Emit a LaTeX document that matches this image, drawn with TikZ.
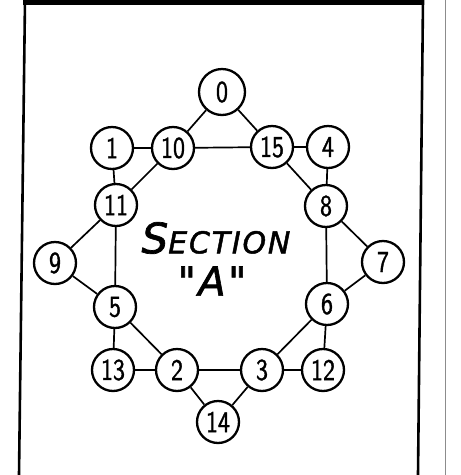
\documentclass[tikz,border=0pt]{standalone}
\usepackage{fontspec}
\newfontfamily\handfont[LetterSpace=6,FakeBold=1.6]{DejaVu Sans}
\newfontfamily\numfont[Extension=.otf,FakeBold=1.2,FakeStretch=0.8]{lmsans10-regular}
\begin{document}
\begin{tikzpicture}[x=1pt,y=-1pt,
  nd/.style={circle,draw,line width=2.3pt,minimum size=42pt,inner sep=0pt,font=\fontsize{30}{30}\selectfont\numfont},
  ln/.style={line width=1.7pt},
  frame/.style={line width=2.6pt}]
\useasboundingbox (0,0) rectangle (461,475);
% frame
\draw[line width=5pt] (23,2.5) -- (424,2.5);
\draw[frame] (25,0) -- (19,475);
\draw[frame] (423,0) -- (418,475);
\draw[line width=1pt,black!45] (445,0) -- (445,475);
% nodes
\node[nd,minimum size=46pt] (n0) at (222,92) {0};
\node[nd] (n1) at (112,148) {1};
\node[nd] (n10) at (173,148) {10};
\node[nd] (n15) at (272,147) {15};
\node[nd] (n4) at (328,147) {4};
\node[nd] (n11) at (116,205) {11};
\node[nd] (n8) at (326,206) {8};
\node[nd] (n9) at (55,263) {9};
\node[nd] (n7) at (383,262) {7};
\node[nd] (n5) at (115,307) {5};
\node[nd] (n6) at (327,304) {6};
\node[nd] (n13) at (113,370) {13};
\node[nd] (n2) at (177,370) {2};
\node[nd] (n3) at (262,370) {3};
\node[nd] (n12) at (323,370) {12};
\node[nd] (n14) at (218,422) {14};
% text
\node (sec) at (216,238) {\handfont\itshape{\fontsize{42}{42}\selectfont S}{\fontsize{30}{30}\selectfont ECTION}};
\node (qa) at (212,281) {\handfont\itshape\fontsize{40}{40}\selectfont "A"};
% edges
\draw[ln] (n0) -- (n10);
\draw[ln] (n0) -- (n15);
\draw[ln] (n1) -- (n10);
\draw[ln] (n10) -- (n15);
\draw[ln] (n15) -- (n4);
\draw[ln] (n1) -- (n11);
\draw[ln] (n10) -- (n11);
\draw[ln] (n15) -- (n8);
\draw[ln] (n4) -- (n8);
\draw[ln] (n11) -- (n9);
\draw[ln] (n11) -- (n5);
\draw[ln] (n9) -- (n5);
\draw[ln] (n8) -- (n7);
\draw[ln] (n8) -- (n6);
\draw[ln] (n7) -- (n6);
\draw[ln] (n5) -- (n13);
\draw[ln] (n5) -- (n2);
\draw[ln] (n13) -- (n2);
\draw[ln] (n2) -- (n3);
\draw[ln] (n3) -- (n12);
\draw[ln] (n3) -- (n6);
\draw[ln] (n6) -- (n12);
\draw[ln] (n2) -- (n14);
\draw[ln] (n3) -- (n14);
\end{tikzpicture}
\end{document}
